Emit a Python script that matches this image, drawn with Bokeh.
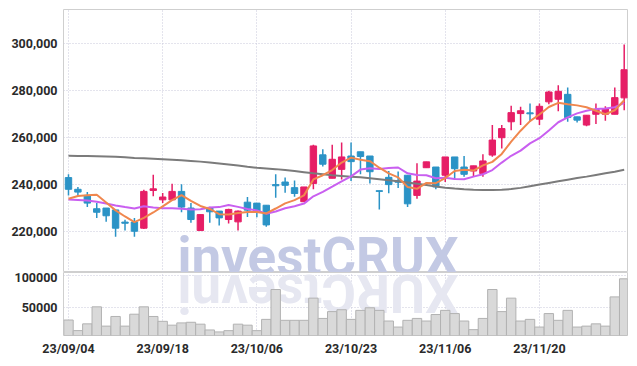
import math
from bokeh.plotting import figure
from bokeh.models import Range1d, FixedTicker, NumeralTickFormatter, Label
from bokeh.layouts import column
from bokeh.embed import file_html
from bokeh.resources import INLINE

dates = ["23/09/04", "23/09/05", "23/09/06", "23/09/07", "23/09/08", "23/09/11", "23/09/12", "23/09/13",
         "23/09/14", "23/09/15", "23/09/18", "23/09/19", "23/09/20", "23/09/21", "23/09/22", "23/09/25",
         "23/09/26", "23/09/27", "23/10/04", "23/10/05", "23/10/06", "23/10/10", "23/10/11", "23/10/12",
         "23/10/13", "23/10/16", "23/10/17", "23/10/18", "23/10/19", "23/10/20", "23/10/23", "23/10/24",
         "23/10/25", "23/10/26", "23/10/27", "23/10/30", "23/10/31", "23/11/01", "23/11/02", "23/11/03",
         "23/11/06", "23/11/07", "23/11/08", "23/11/09", "23/11/10", "23/11/13", "23/11/14", "23/11/15",
         "23/11/16", "23/11/17", "23/11/20", "23/11/21", "23/11/22", "23/11/23", "23/11/24", "23/11/27",
         "23/11/28", "23/11/29", "23/11/30", "23/12/01"]

opens = [242900, 237900, 235300, 229600, 229900, 229100, 223900, 223900, 221300, 237400,
         233400, 233400, 237000, 229900, 220300, 230000, 228600, 225000, 224000, 232400,
         232000, 231100, 239900, 241000, 238600, 232600, 240400, 252600, 242600, 246400,
         252100, 253900, 252100, 237300, 243000, 241600, 243900, 235300, 247100, 247400,
         243900, 251700, 247400, 245700, 244600, 252500, 259900, 266700, 270200, 270500,
         267800, 275200, 276300, 278400, 268800, 265300, 269900, 269900, 269900, 276900]
highs = [244300, 238900, 236700, 232000, 229900, 229100, 224900, 225700, 237700, 244100,
         236300, 240300, 240000, 232000, 227100, 230400, 228600, 229600, 228900, 234600,
         232000, 231100, 244300, 242900, 241700, 238900, 256900, 255000, 256900, 257900,
         257900, 253900, 252100, 237300, 245700, 245500, 243900, 249000, 249600, 247400,
         251700, 251700, 252100, 247900, 252900, 265300, 265300, 273500, 273100, 274500,
         274500, 279900, 282300, 281300, 268800, 269500, 274500, 273300, 281300, 299700]
lows = [235300, 234900, 230300, 225700, 224100, 217700, 220300, 217700, 221000, 234900,
        232000, 233100, 228100, 223600, 220300, 223600, 222400, 223300, 220300, 226100,
        226000, 221900, 234300, 236400, 234700, 232600, 237900, 247600, 242600, 242100,
        241400, 244300, 240400, 229300, 236200, 238500, 230300, 233900, 247100, 237900,
        241000, 241900, 243300, 243300, 243300, 251800, 255300, 263100, 265300, 266700,
        265300, 274200, 271200, 266700, 266400, 264800, 265700, 267100, 269900, 271600]
closes = [237900, 236700, 232000, 228100, 226600, 221300, 223400, 220000, 237000, 238100,
          234600, 237000, 230300, 225000, 227100, 228300, 225700, 229300, 228600, 229000,
          228600, 222700, 239400, 239600, 236100, 238900, 256400, 248600, 250700, 251700,
          249700, 251900, 245400, 237000, 239900, 240900, 231700, 241400, 249600, 238900,
          251700, 246700, 244300, 247900, 250000, 258900, 263800, 270600, 271400, 270100,
          273300, 279400, 279700, 268500, 267400, 269500, 271900, 272300, 277000, 288900]
volumes = [29600, 12750, 23500, 50500, 19900, 35200, 19900, 38800, 50500, 35200,
           27500, 21400, 25000, 26000, 23000, 13800, 10700, 12700, 23000, 21400,
           12700, 30600, 78000, 29100, 29100, 29100, 64300, 32100, 42900, 45900,
           30600, 44900, 49000, 44900, 28000, 18400, 29100, 32100, 28000, 38300,
           44900, 39800, 28000, 14300, 32100, 78000, 42900, 64300, 28000, 30600,
           18400, 39800, 29100, 44900, 18400, 19900, 23500, 19900, 66300, 95000]
ma5 = [233900, 235000, 235400, 235600, 232300, 228900, 226300, 223900, 225700, 228000,
       230600, 233300, 235400, 233000, 230800, 229500, 227300, 227100, 227800, 228200,
       228200, 227600, 229700, 231900, 233300, 235300, 242100, 243900, 246100, 249300,
       251400, 250500, 249900, 247100, 244700, 243000, 238900, 238100, 240600, 240500,
       242700, 245700, 246200, 245900, 248100, 249600, 253000, 258200, 262900, 267000,
       269800, 273000, 274800, 274200, 273700, 272900, 271400, 269900, 271600, 275900]
ma10 = [233500, 233300, 233100, 232600, 231800, 231000, 230300, 229700, 230700, 230100,
        229800, 229800, 229600, 229300, 229400, 230100, 230300, 231200, 230400, 229500,
        228900, 227500, 228400, 229800, 230700, 231800, 234900, 236800, 239000, 241300,
        243400, 246300, 246900, 246600, 247000, 247200, 244700, 244000, 243900, 242600,
        242800, 242300, 242200, 243300, 244300, 246100, 249300, 252200, 254400, 257500,
        259700, 263000, 266500, 268600, 270300, 271400, 272200, 272400, 272900, 274800]
ma_long = [252200, 252150, 252100, 252000, 251900, 251750, 251550, 251300, 251100, 250900,
           250700, 250500, 250300, 250000, 249700, 249300, 248900, 248500, 248000, 247500,
           247100, 246800, 246500, 246100, 245700, 245200, 244700, 244300, 243900, 243600,
           243300, 243000, 242600, 242200, 241800, 241300, 240800, 240300, 239700, 239100,
           238600, 238200, 237900, 237700, 237600, 237600, 237700, 238000, 238500, 239200,
           239900, 240600, 241300, 242000, 242700, 243300, 244000, 244700, 245400, 246200]

date_ticks = [0, 10, 20, 30, 40, 50]
price_ticks = [220000, 240000, 260000, 280000, 300000]
volume_ticks = [50000, 100000]
watermark = "investCRUX"

UP = "#e61e66"
DOWN = "#2b93c6"
GRID = "#c9c9da"
LABEL_FONT = "Roboto"
LABEL_COLOR = "#2a2a2a"

idx = list(range(len(dates)))
x_range = Range1d(-0.53, 59.35)


def style(fig):
    fig.outline_line_color = "#cfcfcf"
    for ax in fig.axis:
        ax.axis_line_color = None
        ax.major_tick_line_color = None
        ax.minor_tick_line_color = None
        ax.major_tick_out = 0
        ax.major_tick_in = 0
        ax.minor_tick_out = 0
        ax.minor_tick_in = 0
        ax.major_label_text_font = LABEL_FONT
        ax.major_label_text_font_style = "bold"
        ax.major_label_text_font_size = "12.5px"
        ax.major_label_text_color = LABEL_COLOR
    fig.yaxis.major_label_standoff = 6
    fig.xgrid.ticker = FixedTicker(ticks=date_ticks)
    for g in (fig.xgrid, fig.ygrid):
        g.grid_line_color = GRID
        g.grid_line_dash = "1 2"
        g.grid_line_width = 1


# ---- price pane ----
p = figure(width=629, height=272, x_range=x_range, y_range=Range1d(202400, 314600),
           output_backend="svg", toolbar_location=None, x_axis_location=None,
           min_border_left=63, min_border_right=2, min_border_top=9, min_border_bottom=0)
style(p)
p.yaxis.ticker = FixedTicker(ticks=price_ticks)
p.yaxis.formatter = NumeralTickFormatter(format="0,0")

p.add_layout(Label(x=26.49, y=208800, text=watermark, text_font="Roboto", text_font_style="bold",
                   text_font_size="53px", text_color="#c3c9e4", text_align="center",
                   text_baseline="alphabetic", level="underlay"))

colors = [UP if c >= o else DOWN for o, c in zip(opens, closes)]
tops = [max(o, c) for o, c in zip(opens, closes)]
bottoms = [min(o, c) for o, c in zip(opens, closes)]
p.segment(x0=idx, y0=lows, x1=idx, y1=highs, color=colors, line_width=1.5)
p.vbar(x=idx, top=tops, bottom=bottoms, width=0.68, fill_color=colors, line_color=colors, line_width=1)

p.line(idx, ma_long, color="#7b7b7b", line_width=2)
p.line(idx, ma10, color="#c95ff0", line_width=2)
p.line(idx, ma5, color="#f0874e", line_width=2)

# ---- volume pane ----
v = figure(width=629, height=86, x_range=x_range, y_range=Range1d(5000, 105000),
           output_backend="svg", toolbar_location=None,
           min_border_left=63, min_border_right=2, min_border_top=0, min_border_bottom=0)
v.xaxis.ticker = FixedTicker(ticks=date_ticks)
v.xaxis.major_label_overrides = {i: dates[i] for i in date_ticks}
style(v)
v.xaxis.major_label_standoff = 5
v.yaxis.ticker = FixedTicker(ticks=volume_ticks)
v.yaxis.formatter = NumeralTickFormatter(format="0")

# mirrored reflection of the watermark (rotated half a turn about its centre)
v.add_layout(Label(x=26.49, y=72700, text=watermark[::-1], text_font="Roboto", text_font_style="bold",
                   text_font_size="53px", text_color="#e6e7f1", text_align="center",
                   text_baseline="middle", angle=math.pi, level="underlay"))

v.vbar(x=idx, top=volumes, bottom=0, width=1.0, fill_color="#d9d9d9", line_color="#b2b2b2", line_width=1)

layout = column(p, v, spacing=0)
open("out.html", "w").write(file_html(layout, INLINE))
